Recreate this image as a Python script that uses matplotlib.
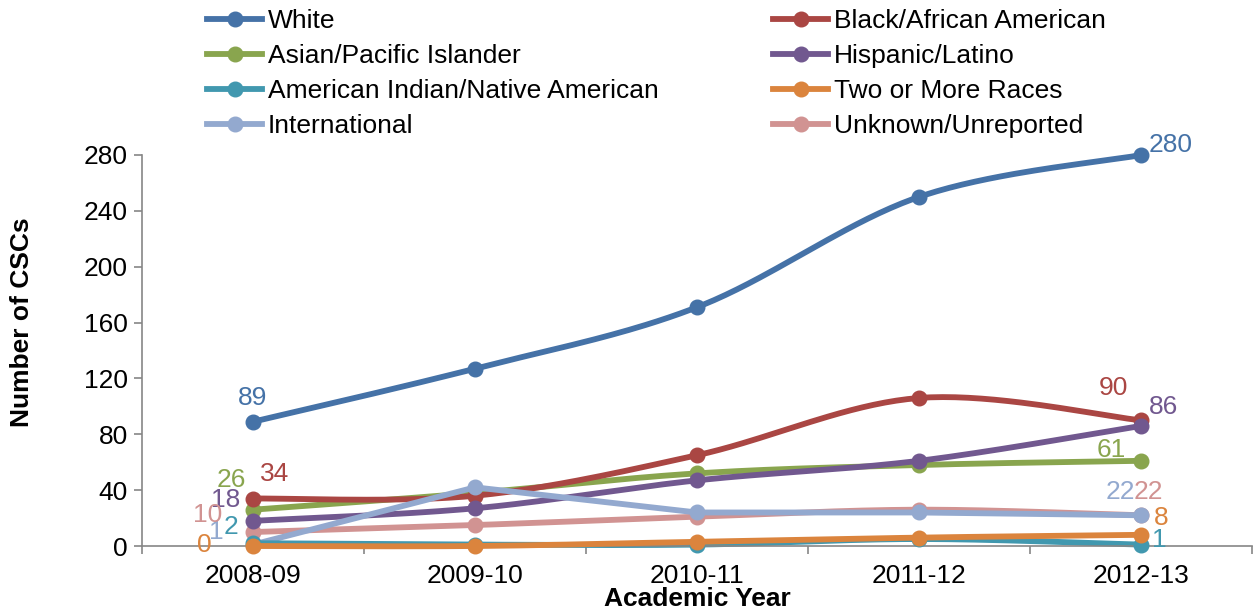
import numpy as np
import matplotlib
matplotlib.use("Agg")
import matplotlib.pyplot as plt
from matplotlib.lines import Line2D

plt.rcParams['font.family'] = ['Liberation Sans', 'DejaVu Sans']

years = ["2008-09", "2009-10", "2010-11", "2011-12", "2012-13"]
series_names = ["White", "Black/African American", "Asian/Pacific Islander", "Hispanic/Latino",
                "American Indian/Native American", "Two or More Races", "International",
                "Unknown/Unreported"]
white = [89, 127, 171, 250, 280]
black = [34, 36, 65, 106, 90]
asian = [26, 38, 52, 58, 61]
hispanic = [18, 27, 47, 61, 86]
amer_indian = [2, 1, 1, 5, 1]
two_more = [0, 0, 3, 6, 8]
international = [1, 42, 24, 24, 22]
unknown = [10, 15, 21, 26, 22]
values = [white, black, asian, hispanic, amer_indian, two_more, international, unknown]
colors = ["#4572A7", "#AA4643", "#89A54E", "#71588F", "#4198AF", "#DB843D", "#93A9CF", "#D19392"]
smoothed = [True, True, True, True, True, True, False, True]
yticks = [0, 40, 80, 120, 160, 200, 240, 280]

# label offsets in pixels (first point, last point)
first_off = [(0, 24), (22, 25), (-22, 30), (-27, 21), (-22, 16), (-49, 1), (-37, 13), (-45, 17)]
last_off = [(30, 10), (-28, 32), (-30, 11), (23, 19), (18, 5), (20, 17), (-21, 23), (7, 23)]


def smooth(xs, ys, n=40):
    # Excel-style smoothed line rendering through the data points
    P = np.column_stack([xs, ys]).astype(float)
    out = []
    for i in range(len(P) - 1):
        p0 = P[i - 1] if i > 0 else P[i]
        p1 = P[i]
        p2 = P[i + 1]
        p3 = P[i + 2] if i + 2 < len(P) else P[i + 1]
        c1 = p1 + (p2 - p0) / 6.0
        c2 = p2 - (p3 - p1) / 6.0
        t = np.linspace(0, 1, n)[:, None]
        seg = ((1 - t) ** 3) * p1 + 3 * ((1 - t) ** 2) * t * c1 + 3 * (1 - t) * t ** 2 * c2 + t ** 3 * p2
        out.append(seg if i == 0 else seg[1:])
    S = np.vstack(out)
    return S[:, 0], S[:, 1]


fig = plt.figure(figsize=(12.55, 6.14), dpi=100)
ax = fig.add_axes([142 / 1255, 1 - 546 / 614, (1252 - 142) / 1255, (546 - 155) / 614])
x = np.arange(len(years))

LW = 4.2
order = [7, 2, 1, 3, 6, 4, 5, 0]
for z, k in enumerate(order):
    vals = values[k]
    if smoothed[k]:
        sx, sy = smooth(x, vals)
    else:
        sx, sy = x, vals
    ax.plot(sx, sy, color=colors[k], lw=LW, solid_capstyle='round', solid_joinstyle='round',
            zorder=2 + z * 0.1, clip_on=False)
    ax.plot(x, vals, 'o', color=colors[k], ms=10.5, zorder=2 + z * 0.1 + 0.05, clip_on=False)

for k in range(len(values)):
    vals = values[k]
    ax.annotate(str(vals[0]), (x[0], vals[0]), xytext=first_off[k], textcoords='offset pixels',
                ha='center', va='center', color=colors[k], fontsize=19)
    ax.annotate(str(vals[-1]), (x[-1], vals[-1]), xytext=last_off[k], textcoords='offset pixels',
                ha='center', va='center', color=colors[k], fontsize=19)

ax.set_xlim(-0.5, len(years) - 0.5)
ax.set_ylim(0, 280)
ax.set_yticks(yticks)
ax.set_xticks(x)
ax.set_xticklabels(years)
ax.set_xticks(np.arange(len(years) + 1) - 0.5, minor=True)
ax.tick_params(axis='x', which='major', length=0, pad=13, labelsize=19)
ax.tick_params(axis='x', which='minor', length=6, width=1.2, color='#868686', direction='out')
ax.tick_params(axis='y', length=6, width=1.2, color='#868686', direction='out', pad=4, labelsize=19)
for s in ['top', 'right']:
    ax.spines[s].set_visible(False)
for s in ['left', 'bottom']:
    ax.spines[s].set_color('#868686')
    ax.spines[s].set_linewidth(1.2)

fig.text(22 / 1255, 1 - 322 / 614, "Number of CSCs", rotation=90, ha='center', va='center',
         fontsize=19, fontweight='bold')
fig.text(697 / 1255, 1 - 599 / 614, "Academic Year", ha='center', va='center',
         fontsize=19, fontweight='bold')


def handle(k):
    return Line2D([0], [0], color=colors[k], lw=LW, marker='o', ms=10.5)


left_idx = [0, 2, 4, 6]
right_idx = [1, 3, 5, 7]
for idxs, xpos in [(left_idx, 207), (right_idx, 773)]:
    fig.legend([handle(k) for k in idxs], [series_names[k] for k in idxs],
               loc='upper left', bbox_to_anchor=(xpos / 1255, 1 - 9 / 614),
               frameon=False, fontsize=19, handlelength=2.1, handletextpad=0.2,
               labelspacing=0.42, borderpad=0, borderaxespad=0)

fig.savefig("out.png", dpi=100)
